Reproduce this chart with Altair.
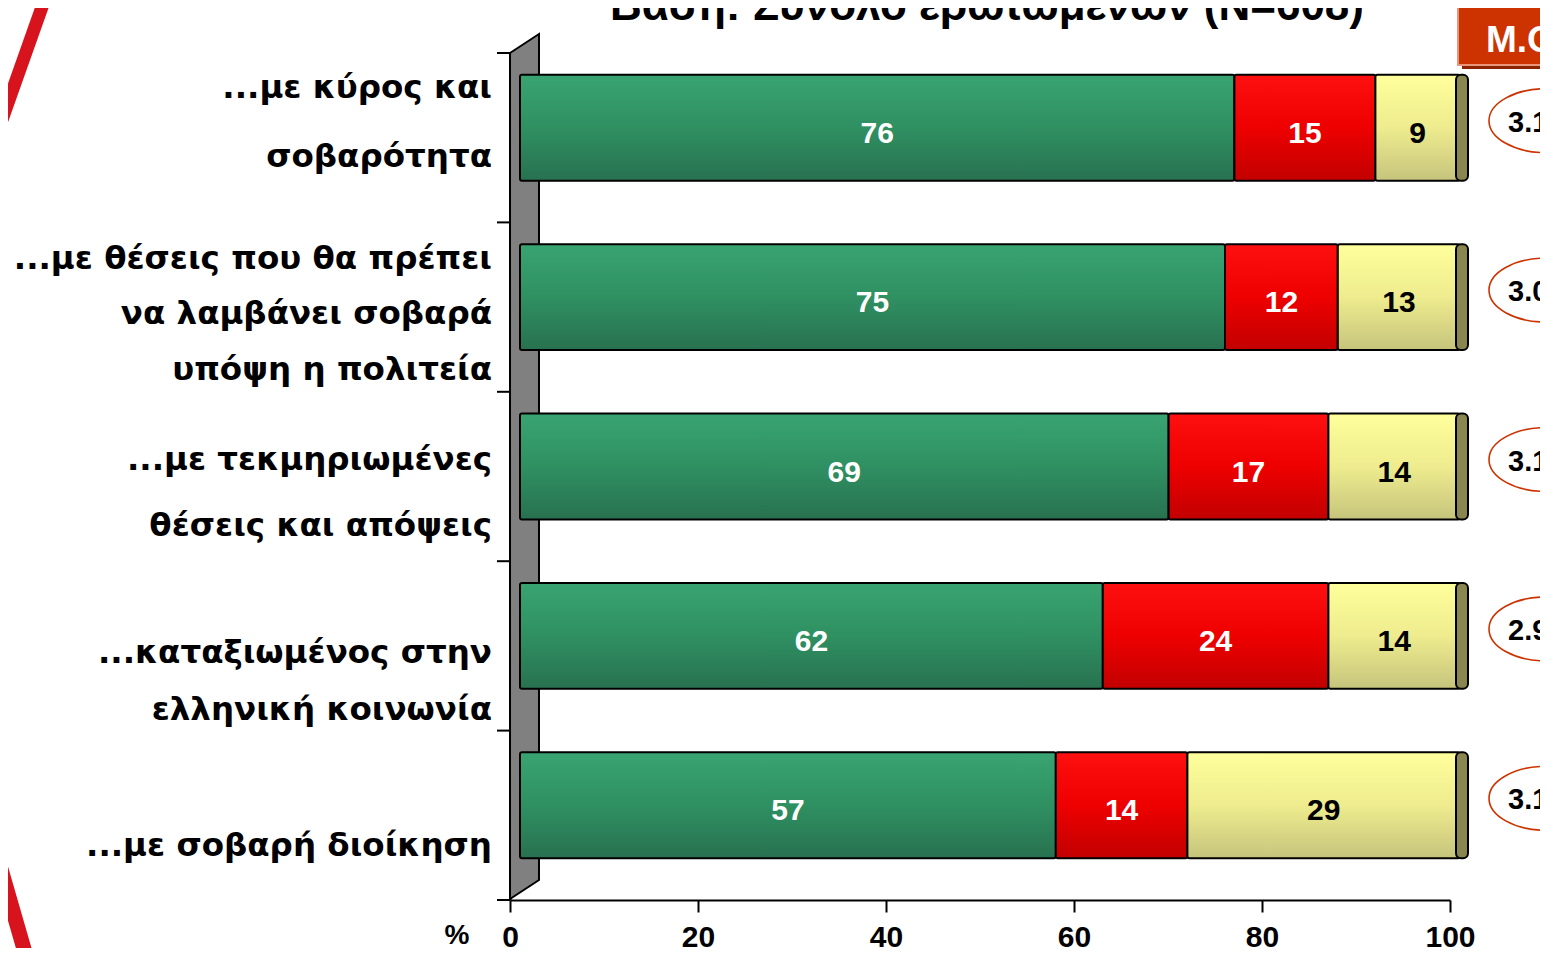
import json
import altair as alt
import pandas as pd

# ---------------- data ----------------
categories = [
    "...με κύρος και σοβαρότητα",
    "...με θέσεις που θα πρέπει να λαμβάνει σοβαρά υπόψη η πολιτεία",
    "...με τεκμηριωμένες θέσεις και απόψεις",
    "...καταξιωμένος στην ελληνική κοινωνία",
    "...με σοβαρή διοίκηση",
]
category_lines = [
    ["...με κύρος και", "σοβαρότητα"],
    ["...με θέσεις που θα πρέπει", "να λαμβάνει σοβαρά", "υπόψη η πολιτεία"],
    ["...με τεκμηριωμένες", "θέσεις και απόψεις"],
    ["...καταξιωμένος στην", "ελληνική κοινωνία"],
    ["...με σοβαρή διοίκηση"],
]
series_names = ["s1", "s2", "s3"]
green_vals = [76, 75, 69, 62, 57]
red_vals = [15, 12, 17, 24, 14]
yellow_vals = [9, 13, 14, 14, 29]
mean_vals = ["3.1", "3.0", "3.1", "2.9", "3.1"]
x_ticks = [0, 20, 40, 60, 80, 100]
title_text = "Βάση:  Σύνολο ερωτωμένων (Ν=608)"
mo_text = "M.O."
pct_text = "%"

# ---------------- layout / style ----------------
PLOT_W, PLOT_H = 940, 847
N = len(categories)
STEP = PLOT_H / N
# per-category label placement (first-line baseline offset from band centre, line gap)
LABEL_ANCHOR = [-39.7, -38.6, -7.0, 16.6, 40.2]
LABEL_GAP = [69, 55.5, 66, 57, 0]
LABEL_FONT = "DejaVu Sans"
NUM_FONT = "Liberation Sans"

rows = []
for i, c in enumerate(categories):
    for j, (s, vals) in enumerate(zip(series_names, [green_vals, red_vals, yellow_vals])):
        rows.append({"category": c, "series": s, "value": vals[i], "order": j})
df = pd.DataFrame(rows)
cat_df = pd.DataFrame({"category": categories, "mean": mean_vals})
one = pd.DataFrame({"k": [0]})

lab_rows = []
for i, lines in enumerate(category_lines):
    for k, t in enumerate(lines):
        lab_rows.append({"text": t,
                         "ypix": STEP * (i + 0.5) + LABEL_ANCHOR[i] + k * LABEL_GAP[i]})
lab_df = pd.DataFrame(lab_rows)
tick_df = pd.DataFrame({"ypix": [STEP * i for i in range(N + 1)]})

y_enc = alt.Y(
    "category:N",
    sort=categories,
    scale=alt.Scale(domain=categories, paddingInner=0.375, paddingOuter=0.1875),
    axis=alt.Axis(
        title=None, domainColor="black", domainWidth=2, ticks=False, labels=False,
        grid=False,
    ),
)
x_scale = alt.Scale(domain=[0, 100], nice=False, zero=True)
x_axis = alt.Axis(
    title=None, values=x_ticks, domainColor="black", domainWidth=2,
    tickColor="black", tickWidth=2, tickSize=12, labelFont=NUM_FONT,
    labelFontSize=30, labelFontWeight="bold", labelColor="black",
    labelPadding=10, grid=False, labelFlush=False, labelOverlap=False,
)


def grad(c0, c1, c2):
    return alt.LinearGradient(
        gradient="linear", x1=0, x2=0, y1=0, y2=1,
        stops=[alt.GradientStop(color=c0, offset=0),
               alt.GradientStop(color=c1, offset=0.5),
               alt.GradientStop(color=c2, offset=1)],
    )


fills = {
    "s1": grad("#39A471", "#2F9062", "#287150"),
    "s2": grad("#FF1010", "#EE0000", "#C20000"),
    "s3": grad("#FFFF9C", "#EEEC8E", "#C6C47C"),
}

stacked = alt.Chart(df).transform_stack(
    stack="value", groupby=["category"], as_=["v0", "v1"],
    sort=[alt.SortField("order", order="ascending")],
)

bar_layers = []
for s in series_names:
    bar_layers.append(
        stacked.transform_filter(alt.datum.series == s)
        .mark_bar(color=fills[s], stroke="black", strokeWidth=2, xOffset=10, x2Offset=10,
                  yOffset=-10, cornerRadius=2)
        .encode(y=y_enc, x=alt.X("v0:Q", scale=x_scale, axis=x_axis), x2="v1:Q")
    )

value_text = (
    stacked.transform_calculate(mid="(datum.v0 + datum.v1) / 2")
    .mark_text(font=NUM_FONT, fontSize=30, fontWeight="bold", baseline="middle",
               align="center", dx=10, dy=-4)
    .encode(
        y=y_enc,
        x=alt.X("mid:Q", scale=x_scale, axis=x_axis),
        text="value:Q",
        color=alt.condition(alt.datum.series == "s3", alt.value("black"), alt.value("white")),
    )
)

caps = alt.Chart(cat_df).mark_bar(
    color="#8A8650", stroke="black", strokeWidth=2, cornerRadius=5, yOffset=-10
).encode(y=y_enc, x=alt.value(946), x2=alt.value(958))

wall_path = "M -0.0335 -0.9561 L 0.0335 -1 L 0.0335 0.9561 L -0.0335 1 Z"
wall = alt.Chart(one).mark_point(
    shape=wall_path, size=748225, filled=True, color="#808080", stroke="black",
    strokeWidth=2, opacity=1,
).encode(x=alt.value(14.5), y=alt.value(413.5))

cat_ticks = alt.Chart(tick_df).mark_rule(color="black", strokeWidth=2).encode(
    y=alt.Y("ypix:Q", scale=None, axis=None), x=alt.value(-13), x2=alt.value(0))

cat_labels = alt.Chart(lab_df).mark_text(
    font=LABEL_FONT, fontSize=32.5, fontWeight="bold", color="black", align="right",
    baseline="alphabetic",
).encode(y=alt.Y("ypix:Q", scale=None, axis=None), x=alt.value(-18), text="text:N")

swoosh_top = alt.Chart(one).mark_rule(color="#D7141E", strokeWidth=13, strokeCap="butt").encode(
    x=alt.value(-462), y=alt.value(-63), x2=alt.value(-518), y2=alt.value(95))
swoosh_bot = alt.Chart(one).mark_rule(color="#D7141E", strokeWidth=15, strokeCap="butt").encode(
    x=alt.value(-518), y=alt.value(785), x2=alt.value(-482), y2=alt.value(910))

ellipse_path = ("M -1 0 C -1 -0.31 -0.5523 -0.561 0 -0.561 C 0.5523 -0.561 1 -0.31 1 0 "
                "C 1 0.31 0.5523 0.561 0 0.561 C -0.5523 0.561 -1 0.31 -1 0 Z")
ellipses = alt.Chart(cat_df).mark_point(
    shape=ellipse_path, size=12996, filled=False, color="#CC3300", strokeWidth=1.6,
    opacity=1, yOffset=-17,
).encode(y=y_enc, x=alt.value(1036))

mean_text = alt.Chart(cat_df).mark_text(
    font=NUM_FONT, fontSize=29, fontWeight="bold", align="left", baseline="middle",
    color="black", dy=-15,
).encode(y=y_enc, x=alt.value(998), text="mean:N")

mo_shadow = alt.Chart(one).mark_rect(color="#8B2200").encode(
    x=alt.value(952), x2=alt.value(1110), y=alt.value(-46), y2=alt.value(16))
mo_box = alt.Chart(one).mark_rect(color="#CC3300", stroke="#E8957A", strokeWidth=2).encode(
    x=alt.value(948), x2=alt.value(1110), y=alt.value(-50), y2=alt.value(12))
mo_label = alt.Chart(one).mark_text(
    text=mo_text, font=NUM_FONT, fontSize=37, fontWeight="bold", color="white",
    align="left", baseline="alphabetic",
).encode(x=alt.value(976), y=alt.value(-1))

title = alt.Chart(one).mark_text(
    text=title_text, font=NUM_FONT, fontSize=44, fontWeight="bold", color="black",
    align="center", baseline="alphabetic",
).encode(x=alt.value(477), y=alt.value(-33))

pct = alt.Chart(one).mark_text(
    text=pct_text, font=NUM_FONT, fontSize=28, fontWeight="bold", color="black",
    align="center", baseline="alphabetic",
).encode(x=alt.value(-53), y=alt.value(891))

chart = alt.layer(
    swoosh_top, swoosh_bot, wall, *bar_layers, caps, value_text, ellipses, mean_text,
    cat_ticks, cat_labels, mo_shadow, mo_box, mo_label, title, pct,
).properties(
    width=PLOT_W, height=PLOT_H,
    padding={"left": 502, "top": 45, "right": 90, "bottom": 48},
    autosize=alt.AutoSizeParams(type="none"),
    background="white",
).configure_view(stroke=None)

chart.save("out.html", embed_options={"renderer": "svg", "actions": False})
